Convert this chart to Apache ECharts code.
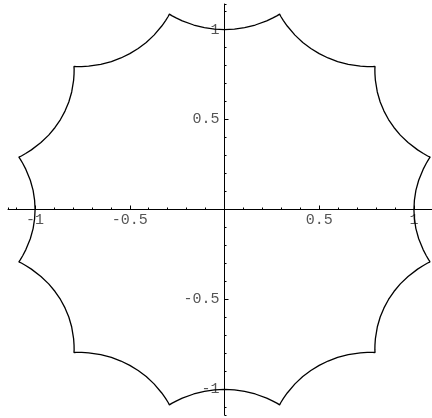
<!DOCTYPE html>
<html>
<head>
<meta charset="utf-8">
<script src="https://cdn.jsdelivr.net/npm/echarts@6/dist/echarts.min.js"></script>
<style>
  html, body { margin: 0; background: #fff; }
  #chart { width: 432px; height: 418px; }
</style>
</head>
<body>
<div id="chart"></div>
<script>
// half of one scallop: angle from the arc middle (deg) and radius
var arcAngles = [0, 3, 6, 9, 12, 13.5, 14.5, 15];
var arcRadii = [1.0, 1.004, 1.016, 1.038, 1.072, 1.095, 1.113, 1.124];
var arcCount = 12;           // scallops round the curve, one every 30 deg
var xRange = [-1.143, 1.143];
var yRange = [-1.142, 1.142];
var majorStep = 0.5;
var minorStep = 0.1;

var gridBox = {left: 8, top: 4, width: 433, height: 411};

// the curve has 12-fold symmetry, so each arc is the profile turned round the origin
function curvePoints() {
  var pts = [];
  for (var k = 0; k < arcCount; k++) {
    var mid = 360 / arcCount * k;
    for (var i = arcAngles.length - 1; i >= 0; i--) pts.push(polar(arcRadii[i], mid - arcAngles[i]));
    for (var j = 1; j < arcAngles.length; j++) pts.push(polar(arcRadii[j], mid + arcAngles[j]));
  }
  pts.push(pts[0]);
  return pts;
}

function polar(r, deg) {
  var a = deg * Math.PI / 180;
  return [r * Math.cos(a), r * Math.sin(a)];
}

function tickLabel(v) {
  if (Math.abs(v) < 1e-9) return '';
  var r = Math.round(v / majorStep) * majorStep;
  if (Math.abs(v - r) > 1e-6) return '';
  return String(r);
}

// onZero keeps the labels at the grid edge in v6, so shift the axes onto zero by hand
function zeroOffset(range, size) {
  return -size * (0 - range[0]) / (range[1] - range[0]);
}

var labelFont = {fontFamily: 'Liberation Mono', fontSize: 15, color: '#555'};

function axisPair(range, pos, offset, margin) {
  return [
    {
      type: 'value', position: pos, offset: offset, min: range[0], max: range[1],
      minInterval: majorStep, maxInterval: majorStep, splitNumber: 4,
      axisLine: {onZero: false, lineStyle: {color: '#000', width: 1}},
      axisTick: {inside: true, length: 4, lineStyle: {color: '#000'}},
      axisLabel: Object.assign({formatter: tickLabel, margin: margin, showMinLabel: false, showMaxLabel: false}, labelFont),
      splitLine: {show: false}
    },
    {
      type: 'value', position: pos, offset: offset, min: range[0], max: range[1],
      minInterval: minorStep, maxInterval: minorStep, splitNumber: 22,
      axisLine: {onZero: false, show: false},
      axisTick: {inside: true, length: 2, lineStyle: {color: '#000'}},
      axisLabel: {show: false},
      splitLine: {show: false}
    }
  ];
}

var chart = echarts.init(document.getElementById('chart'));
chart.setOption({
  animation: false,
  grid: Object.assign({outerBoundsMode: 'none', containLabel: false}, gridBox),
  xAxis: axisPair(xRange, 'bottom', zeroOffset(yRange, gridBox.height), 3),
  yAxis: axisPair(yRange, 'left', zeroOffset(xRange, gridBox.width), 5),
  series: [{
    type: 'line',
    data: curvePoints(),
    showSymbol: false,
    clip: false,
    lineStyle: {color: '#000', width: 1.3}
  }]
});
</script>
</body>
</html>
